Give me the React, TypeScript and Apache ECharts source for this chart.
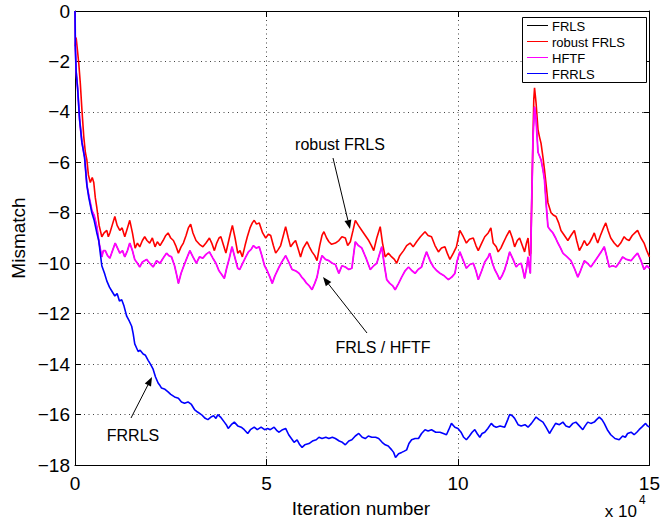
import React, { useEffect, useRef } from "react";
import * as echarts from "echarts";

const seriesNames = ["FRLS", "robust FRLS", "HFTF", "FRRLS"];

const frrls: number[][] = [
  [0,0],[0.01,-1.5],[0.03,-2.4],[0.07,-3.1],[0.12,-4.3],[0.18,-5.2],[0.25,-5.8],[0.31,-6.9],[0.36,-7.4],[0.44,-8.0],[0.5,-8.3],[0.57,-8.8],[0.62,-9.1],[0.7,-10.1],[0.77,-10.4],[0.83,-10.7],[0.9,-10.95],[0.96,-11.1],[1.04,-11.3],[1.1,-11.2],[1.16,-11.5],[1.22,-11.45],[1.28,-11.7],[1.35,-12.1],[1.42,-12.3],[1.48,-12.5],[1.52,-12.8],[1.56,-13.2],[1.62,-13.4],[1.65,-13.5],[1.7,-13.45],[1.78,-13.6],[1.84,-13.65],[1.91,-13.85],[1.97,-14.0],[2.04,-14.2],[2.1,-14.5],[2.17,-14.75],[2.22,-14.85],[2.26,-14.95],[2.35,-15.0],[2.43,-15.1],[2.5,-15.2],[2.6,-15.3],[2.7,-15.35],[2.78,-15.5],[2.86,-15.55],[2.95,-15.5],[3.04,-15.6],[3.12,-15.8],[3.2,-15.9],[3.3,-16.0],[3.4,-16.15],[3.47,-16.2],[3.55,-16.1],[3.62,-16.05],[3.68,-16.15],[3.73,-16.0],[3.8,-16.1],[3.9,-16.3],[3.95,-16.4],[4.0,-16.55],[4.08,-16.4],[4.16,-16.3],[4.25,-16.45],[4.34,-16.5],[4.42,-16.6],[4.51,-16.75],[4.58,-16.6],[4.68,-16.5],[4.76,-16.6],[4.86,-16.5],[4.95,-16.6],[5.03,-16.55],[5.1,-16.6],[5.2,-16.5],[5.28,-16.65],[5.33,-16.7],[5.42,-16.6],[5.5,-16.55],[5.58,-16.8],[5.65,-16.95],[5.72,-17.1],[5.8,-17.0],[5.87,-17.2],[5.93,-17.3],[6.0,-17.2],[6.11,-17.15],[6.2,-17.05],[6.3,-17.0],[6.37,-16.9],[6.45,-16.95],[6.55,-16.9],[6.63,-16.95],[6.72,-16.9],[6.8,-16.95],[6.9,-17.05],[6.98,-17.1],[7.06,-17.2],[7.15,-17.05],[7.23,-17.0],[7.32,-16.85],[7.41,-16.75],[7.5,-16.9],[7.58,-16.95],[7.66,-16.85],[7.75,-16.9],[7.85,-16.9],[7.93,-16.95],[8.02,-17.1],[8.1,-17.2],[8.18,-17.25],[8.27,-17.4],[8.32,-17.5],[8.37,-17.7],[8.45,-17.55],[8.53,-17.5],[8.6,-17.45],[8.66,-17.4],[8.72,-17.15],[8.79,-17.0],[8.88,-16.95],[8.97,-16.95],[9.05,-16.75],[9.14,-16.6],[9.22,-16.65],[9.31,-16.6],[9.42,-16.7],[9.53,-16.7],[9.62,-16.75],[9.7,-16.8],[9.76,-16.6],[9.83,-16.35],[9.92,-16.5],[10.0,-16.55],[10.08,-16.7],[10.15,-16.9],[10.22,-17.0],[10.3,-16.85],[10.37,-16.7],[10.44,-16.6],[10.5,-16.75],[10.57,-16.9],[10.63,-16.75],[10.7,-16.7],[10.78,-16.55],[10.87,-16.35],[10.93,-16.45],[11.0,-16.5],[11.1,-16.45],[11.22,-16.5],[11.3,-16.2],[11.35,-16.0],[11.42,-16.05],[11.48,-16.15],[11.57,-16.4],[11.65,-16.45],[11.75,-16.4],[11.83,-16.5],[11.92,-16.35],[12.04,-16.1],[12.12,-16.2],[12.22,-16.3],[12.3,-16.5],[12.39,-16.75],[12.47,-16.55],[12.55,-16.35],[12.65,-16.4],[12.74,-16.3],[12.82,-16.45],[12.91,-16.5],[13.0,-16.35],[13.08,-16.3],[13.17,-16.45],[13.26,-16.6],[13.32,-16.45],[13.39,-16.3],[13.47,-16.35],[13.56,-16.3],[13.62,-16.2],[13.69,-16.1],[13.76,-16.2],[13.82,-16.35],[13.9,-16.6],[13.99,-16.8],[14.1,-16.95],[14.21,-17.0],[14.3,-16.85],[14.37,-16.9],[14.43,-16.75],[14.52,-16.7],[14.6,-16.8],[14.67,-16.7],[14.73,-16.6],[14.8,-16.5],[14.9,-16.35],[14.95,-16.45],[15,-16.5]
];

const robustFrls: number[][] = [
  [0,-1.4],[0.03,-1.05],[0.06,-1.5],[0.1,-2.1],[0.14,-2.9],[0.18,-3.9],[0.23,-5.0],[0.27,-5.6],[0.31,-5.9],[0.35,-6.5],[0.4,-6.8],[0.45,-6.6],[0.49,-6.8],[0.53,-7.4],[0.57,-7.8],[0.63,-8.5],[0.7,-8.95],[0.76,-8.8],[0.83,-8.7],[0.87,-8.95],[0.91,-8.8],[0.97,-8.5],[1.04,-8.15],[1.1,-8.5],[1.17,-8.7],[1.23,-8.6],[1.3,-8.95],[1.37,-8.6],[1.43,-8.3],[1.5,-8.8],[1.57,-9.4],[1.63,-9.2],[1.69,-9.35],[1.76,-9.1],[1.82,-8.95],[1.88,-9.1],[1.95,-9.2],[2.02,-9.0],[2.09,-9.35],[2.15,-9.15],[2.22,-9.3],[2.3,-9.1],[2.37,-8.9],[2.43,-8.8],[2.5,-9.0],[2.57,-9.1],[2.63,-9.3],[2.7,-9.6],[2.77,-9.35],[2.83,-9.2],[2.9,-8.9],[2.96,-8.6],[3.02,-8.45],[3.08,-8.8],[3.16,-9.1],[3.25,-9.25],[3.34,-9.35],[3.42,-9.2],[3.51,-9.0],[3.57,-9.2],[3.64,-9.5],[3.7,-9.2],[3.76,-9.0],[3.81,-8.95],[3.88,-9.3],[3.94,-9.6],[4.0,-9.2],[4.06,-8.8],[4.11,-8.5],[4.18,-9.0],[4.25,-9.6],[4.31,-9.5],[4.37,-9.75],[4.44,-9.3],[4.5,-8.95],[4.57,-8.6],[4.63,-8.4],[4.68,-8.3],[4.74,-8.45],[4.81,-8.4],[4.9,-8.8],[4.98,-9.0],[5.05,-8.85],[5.11,-8.9],[5.18,-9.3],[5.24,-9.6],[5.31,-9.45],[5.37,-9.3],[5.44,-8.9],[5.5,-8.55],[5.57,-9.0],[5.63,-9.35],[5.7,-9.2],[5.76,-9.1],[5.83,-9.45],[5.89,-9.75],[5.96,-9.4],[6.06,-9.15],[6.12,-9.35],[6.19,-9.55],[6.26,-9.7],[6.32,-9.9],[6.39,-9.3],[6.45,-8.9],[6.5,-8.75],[6.57,-9.0],[6.63,-9.15],[6.7,-9.25],[6.8,-9.2],[6.89,-9.1],[6.97,-8.95],[7.06,-9.0],[7.12,-9.3],[7.19,-9.15],[7.26,-8.7],[7.32,-8.3],[7.4,-8.5],[7.49,-8.7],[7.58,-8.9],[7.67,-9.1],[7.74,-9.3],[7.8,-9.5],[7.88,-9.0],[7.97,-8.55],[8.03,-9.2],[8.1,-9.75],[8.18,-9.6],[8.27,-9.75],[8.34,-9.85],[8.4,-10.0],[8.48,-9.7],[8.58,-9.5],[8.66,-9.3],[8.75,-9.2],[8.83,-9.35],[8.92,-9.15],[9.02,-8.95],[9.08,-8.85],[9.14,-8.75],[9.22,-8.9],[9.31,-8.95],[9.4,-9.3],[9.49,-9.55],[9.57,-9.4],[9.66,-9.35],[9.72,-9.6],[9.79,-9.85],[9.88,-9.6],[9.96,-9.35],[10.05,-8.7],[10.14,-8.95],[10.22,-9.2],[10.3,-9.05],[10.4,-9.0],[10.47,-9.3],[10.53,-9.5],[10.62,-9.2],[10.7,-8.95],[10.79,-8.8],[10.86,-8.6],[10.92,-9.2],[11.0,-9.35],[11.05,-9.55],[11.12,-9.4],[11.18,-9.2],[11.26,-8.95],[11.35,-8.7],[11.42,-9.0],[11.48,-9.35],[11.55,-9.1],[11.61,-9.0],[11.68,-9.3],[11.74,-9.55],[11.79,-9.2],[11.83,-9.0],[11.87,-9.7],[11.9,-9.6],[11.94,-6.5],[11.98,-3.5],[12.0,-3.05],[12.04,-3.65],[12.09,-4.7],[12.13,-5.0],[12.17,-5.25],[12.22,-5.8],[12.26,-6.3],[12.31,-7.0],[12.35,-7.6],[12.43,-8.0],[12.5,-8.1],[12.56,-8.15],[12.63,-8.4],[12.69,-8.7],[12.78,-8.9],[12.87,-9.1],[12.95,-8.9],[13.04,-8.7],[13.1,-9.1],[13.17,-9.5],[13.24,-9.3],[13.3,-9.1],[13.37,-9.3],[13.43,-9.2],[13.5,-9.0],[13.56,-8.8],[13.6,-9.0],[13.65,-9.2],[13.72,-8.9],[13.8,-8.6],[13.86,-8.4],[13.92,-8.7],[13.99,-9.0],[14.08,-9.2],[14.17,-9.35],[14.25,-9.2],[14.34,-8.95],[14.4,-9.05],[14.47,-9.1],[14.55,-8.9],[14.62,-8.8],[14.69,-8.7],[14.78,-9.0],[14.86,-9.2],[14.93,-9.5],[15,-9.75]
];

const hftf: number[][] = [
  [0,0],[0.01,-1.5],[0.03,-2.4],[0.07,-3.1],[0.12,-4.3],[0.18,-5.2],[0.25,-5.8],[0.31,-6.9],[0.36,-7.3],[0.44,-7.9],[0.5,-8.1],[0.57,-8.55],[0.63,-9.2],[0.7,-9.75],[0.74,-9.5],[0.79,-9.5],[0.85,-9.7],[0.91,-9.8],[0.98,-9.5],[1.05,-9.2],[1.11,-9.4],[1.17,-9.6],[1.24,-9.5],[1.3,-9.75],[1.37,-9.5],[1.43,-9.2],[1.5,-9.5],[1.56,-9.85],[1.63,-10.0],[1.69,-10.15],[1.76,-9.95],[1.87,-9.85],[1.95,-10.0],[2.04,-10.15],[2.13,-9.9],[2.22,-10.0],[2.3,-9.8],[2.39,-9.6],[2.45,-9.7],[2.52,-9.75],[2.6,-10.1],[2.66,-10.5],[2.7,-10.8],[2.77,-10.4],[2.83,-10.15],[2.92,-9.8],[3.0,-9.5],[3.08,-9.75],[3.17,-10.0],[3.25,-9.75],[3.34,-9.8],[3.42,-9.65],[3.51,-9.55],[3.6,-9.8],[3.68,-10.0],[3.76,-10.3],[3.83,-10.45],[3.9,-10.6],[3.96,-10.2],[4.03,-9.8],[4.1,-9.35],[4.18,-9.8],[4.25,-10.2],[4.3,-10.25],[4.38,-10.0],[4.46,-9.75],[4.53,-9.55],[4.6,-9.45],[4.66,-9.3],[4.73,-9.4],[4.81,-9.35],[4.88,-9.7],[4.95,-10.1],[5.02,-10.3],[5.09,-10.55],[5.15,-10.8],[5.22,-10.5],[5.33,-10.15],[5.4,-9.95],[5.5,-9.7],[5.58,-9.95],[5.67,-10.25],[5.76,-10.3],[5.85,-10.4],[5.92,-10.55],[5.98,-10.65],[6.05,-10.8],[6.12,-10.9],[6.19,-11.05],[6.26,-10.8],[6.32,-10.55],[6.39,-10.0],[6.45,-9.7],[6.54,-9.85],[6.63,-9.9],[6.72,-10.0],[6.8,-10.05],[6.89,-10.4],[6.97,-10.1],[7.06,-10.15],[7.15,-10.25],[7.23,-10.2],[7.28,-9.6],[7.32,-9.15],[7.4,-9.3],[7.49,-9.4],[7.6,-9.8],[7.71,-10.25],[7.8,-10.1],[7.88,-10.0],[8.01,-9.35],[8.08,-10.1],[8.14,-10.65],[8.22,-10.8],[8.3,-10.9],[8.36,-11.05],[8.45,-10.8],[8.53,-10.55],[8.62,-10.3],[8.71,-10.15],[8.8,-10.3],[8.88,-10.4],[8.96,-10.25],[9.05,-10.15],[9.12,-9.8],[9.18,-9.55],[9.27,-9.9],[9.36,-10.15],[9.45,-10.3],[9.53,-10.4],[9.64,-10.5],[9.75,-10.65],[9.84,-10.55],[9.92,-10.4],[9.98,-9.9],[10.05,-9.55],[10.14,-9.9],[10.22,-10.2],[10.31,-10.05],[10.4,-10.0],[10.47,-10.3],[10.53,-10.65],[10.62,-10.3],[10.7,-9.95],[10.79,-9.75],[10.83,-9.6],[10.9,-10.0],[10.96,-10.25],[11.03,-10.45],[11.09,-10.65],[11.15,-10.5],[11.22,-10.25],[11.29,-9.9],[11.35,-9.55],[11.44,-9.85],[11.52,-10.15],[11.58,-10.05],[11.65,-10.0],[11.7,-10.3],[11.74,-10.6],[11.79,-10.2],[11.83,-9.75],[11.86,-10.1],[11.89,-10.4],[11.92,-8.0],[11.96,-5.0],[12.0,-3.8],[12.04,-4.3],[12.09,-5.6],[12.13,-5.75],[12.17,-5.9],[12.22,-6.3],[12.26,-6.7],[12.3,-7.6],[12.35,-8.55],[12.42,-8.7],[12.48,-8.8],[12.55,-9.0],[12.61,-9.2],[12.68,-9.4],[12.74,-9.6],[12.85,-9.75],[12.95,-9.9],[13.04,-10.2],[13.13,-10.55],[13.2,-10.3],[13.3,-9.9],[13.38,-10.0],[13.47,-10.15],[13.56,-9.95],[13.65,-9.75],[13.74,-9.55],[13.82,-9.35],[13.88,-9.7],[13.95,-10.15],[14.04,-10.1],[14.13,-10.15],[14.22,-9.95],[14.3,-9.75],[14.4,-9.85],[14.52,-9.9],[14.6,-9.75],[14.69,-9.6],[14.78,-9.9],[14.86,-10.25],[14.93,-10.1],[15,-10.2]
];

// FRLS coincides with HFTF in the figure (annotation "FRLS / HFTF")
const frls: number[][] = hftf;

const colors = ["#000000", "#ff0000", "#ff00ff", "#0000ff"];
const widths = [0.8, 1.6, 1.8, 1.6];
const FONT = "Liberation Sans, Arial, Helvetica, sans-serif";

function arrow(tail: number[], tip: number[]) {
  const dx = tip[0] - tail[0];
  const dy = tip[1] - tail[1];
  const len = Math.sqrt(dx * dx + dy * dy);
  const ux = dx / len, uy = dy / len;
  const hl = 9, hw = 3.5;
  const bx = tip[0] - ux * hl, by = tip[1] - uy * hl;
  return [
    { type: "line", shape: { x1: tail[0], y1: tail[1], x2: bx, y2: by }, style: { stroke: "#000", lineWidth: 1 }, z: 100 },
    {
      type: "polygon",
      shape: { points: [[tip[0], tip[1]], [bx - uy * hw, by + ux * hw], [bx + uy * hw, by - ux * hw]] },
      style: { fill: "#000" },
      z: 100,
    },
  ];
}

function label(text: string, x: number, y: number, size = 16, extra: any = {}) {
  return {
    type: "text",
    x, y, z: 100,
    ...extra,
    style: { text, font: `${size}px ${FONT}`, fill: "#000", align: "center", verticalAlign: "middle" },
  };
}

function legendBox() {
  const left = 522, top = 17, w = 124, h = 65;
  const items: any[] = [
    { type: "rect", shape: { x: left + 0.5, y: top + 0.5, width: w, height: h }, style: { fill: "#fff", stroke: "#000", lineWidth: 1 }, z: 110 },
  ];
  seriesNames.forEach((name, i) => {
    const cy = top + 8.5 + i * 16;
    items.push({
      type: "line",
      shape: { x1: 527, y1: cy, x2: 548, y2: cy },
      style: { stroke: colors[i], lineWidth: 1 },
      z: 111,
    });
    items.push({
      type: "text",
      x: 552, y: cy + 0.5, z: 111,
      style: {
        text: name, fontSize: 13, fontFamily: FONT, lineHeight: 13, fill: "#000",
        align: "left", verticalAlign: "middle",
      },
    });
  });
  return items;
}

export default function App() {
  const ref = useRef<HTMLDivElement>(null);
  useEffect(() => {
    if (!ref.current) return;
    const chart = echarts.init(ref.current, undefined, { renderer: "svg" });
    const ylab = (v: number) => (v < 0 ? "\u2212" + Math.abs(v) : String(v));
    const split = { show: true, lineStyle: { color: "#444", type: [1, 3.5], width: 1 } };
    const data = [frls, robustFrls, hftf, frrls];
    const axisLine = { show: true, onZero: false, lineStyle: { color: "#000", width: 1 } };
    const axisTick = { show: true, inside: true, length: 6, lineStyle: { color: "#000" } };
    chart.setOption({
      animation: false,
      backgroundColor: "#fff",
      grid: { left: 75, right: 11, top: 11, bottom: 55, containLabel: false },
      xAxis: [
        {
          type: "value", min: 0, max: 15, interval: 5, position: "bottom",
          axisLine, axisTick,
          axisLabel: { show: true, fontSize: 19, fontFamily: FONT, color: "#000", margin: 9 },
          splitLine: split,
        },
        {
          type: "value", min: 0, max: 15, interval: 5, position: "top",
          axisLine, axisTick,
          axisLabel: { show: false },
          splitLine: { show: false },
        },
      ],
      yAxis: [
        {
          type: "value", min: -18, max: 0, interval: 2, position: "left",
          axisLine, axisTick,
          axisLabel: { show: true, fontSize: 19, fontFamily: FONT, color: "#000", margin: 5, formatter: ylab },
          splitLine: split,
        },
        {
          type: "value", min: -18, max: 0, interval: 2, position: "right",
          axisLine, axisTick,
          axisLabel: { show: false },
          splitLine: { show: false },
        },
      ],
      series: seriesNames.map((name, i) => ({
        name,
        type: "line",
        data: data[i],
        xAxisIndex: 0,
        yAxisIndex: 0,
        showSymbol: false,
        symbol: "none",
        color: colors[i],
        lineStyle: { color: colors[i], width: widths[i] },
        z: 2 + i,
      })),
      graphic: [
        label("Mismatch", 18, 238, 19, { rotation: Math.PI / 2 }),
        label("Iteration number", 361, 508, 19),
        {
          type: "text", x: 637, y: 511, z: 100,
          style: { text: "x 10", font: `17px ${FONT}`, fill: "#000", align: "right", verticalAlign: "middle" },
        },
        {
          type: "text", x: 639, y: 500, z: 100,
          style: { text: "4", font: `12px ${FONT}`, fill: "#000", align: "left", verticalAlign: "middle" },
        },
        label("robust FRLS", 340, 144),
        ...arrow([333, 158], [350, 229]),
        label("FRLS / HFTF", 383, 347),
        ...arrow([367, 333], [323, 277]),
        label("FRRLS", 133, 435),
        ...arrow([131, 418], [152, 377]),
        ...legendBox(),
      ],
    });
    return () => chart.dispose();
  }, []);
  return (
    <div
      ref={ref}
      style={{ position: "fixed", left: 0, top: 0, width: 663, height: 520, background: "#fff" }}
    />
  );
}
